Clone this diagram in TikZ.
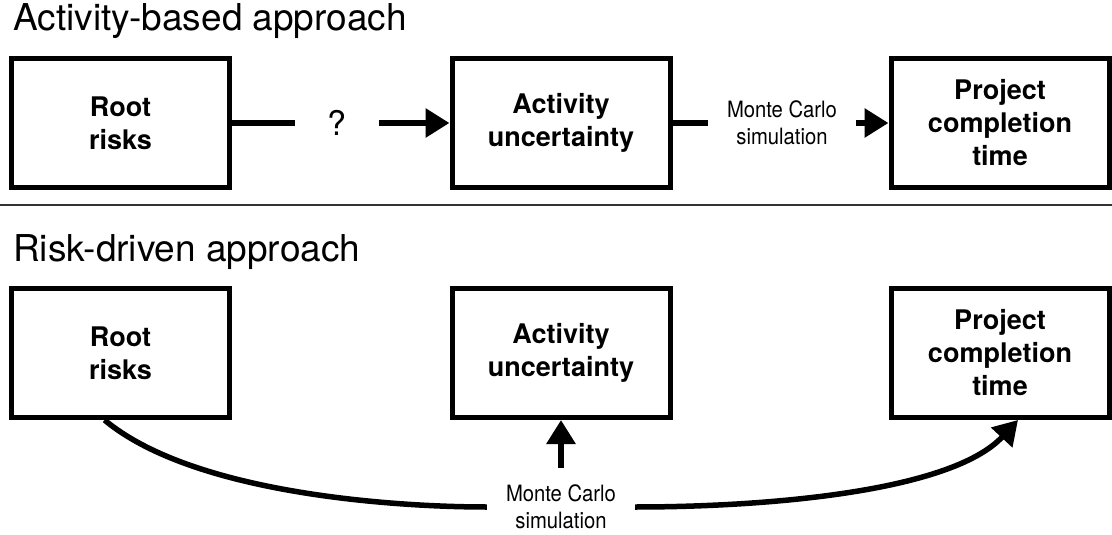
\documentclass[tikz,border=0pt]{standalone}
\usepackage{fontspec}
\setmainfont{TeX Gyre Heros}
\newfontfamily\narrowfont[FakeStretch=0.9]{TeX Gyre Heros}
\usetikzlibrary{arrows.meta}
\tikzset{
  box/.style={draw, line width=5pt, minimum width=218pt, minimum height=129pt,
    align=center, inner sep=0pt, font=\bfseries\fontsize{27}{33}\selectfont},
  heading/.style={anchor=base west, inner sep=0pt, font=\fontsize{37}{44}\selectfont},
  mclabel/.style={align=center, inner xsep=19pt, inner ysep=17pt,
    font=\narrowfont\fontsize{22.5}{26.5}\selectfont},
  flow/.style={line width=6pt},
  flowarrow/.style={flow, -{Triangle[length=24pt, width=28pt]}},
}
\begin{document}
\begin{tikzpicture}[x=1pt, y=-1pt]
    \useasboundingbox (0,0) rectangle (1112,535);

    % Activity-based approach
    \node[heading] (topTitle) at (13,31) {Activity-based approach};
    \node[box] (rootTop) at (120.5,123) {Root\\risks};
    \node[box] (actTop) at (561,123) {Activity\\uncertainty};
    \node[box] (projTop) at (1000,123) {Project\\completion\\time};
    \node[inner sep=0pt, minimum width=84pt, font=\fontsize{34}{40}\selectfont] (ask) at (337,123) {?};
    \node[mclabel] (mcTop) at (782,123) {Monte Carlo\\simulation};

    \draw[flow] (rootTop.east) -- (ask.west);
    \draw[flowarrow] (ask.east) -- (actTop.west);
    \draw[flow] (actTop.east) -- (mcTop.west);
    \draw[flowarrow] (mcTop.east) -- (projTop.west);

    % Separator
    \draw[line width=1.5pt, black!80] (0,205) -- (1112,205);

    % Risk-driven approach
    \node[heading] (bottomTitle) at (13,261) {Risk-driven approach};
    \node[box] (rootBot) at (120.5,353) {Root\\risks};
    \node[box] (actBot) at (561,353) {Activity\\uncertainty};
    \node[box] (projBot) at (1000,353) {Project\\completion\\time};
    \node[mclabel] (mcBot) at (561,507) {Monte Carlo\\simulation};

    \draw[flowarrow] (mcBot.north) -- (actBot.south);
    \draw[line width=5.5pt] ([xshift=-16pt]rootBot.south)
        .. controls +(90,75) and +(-87,0) .. (mcBot.west);
    \draw[line width=5.5pt, -{Triangle[length=24pt, width=28pt]}] (mcBot.east)
        .. controls +(125,0) and +(-68,73) .. ([xshift=18pt]projBot.south);
\end{tikzpicture}
\end{document}
